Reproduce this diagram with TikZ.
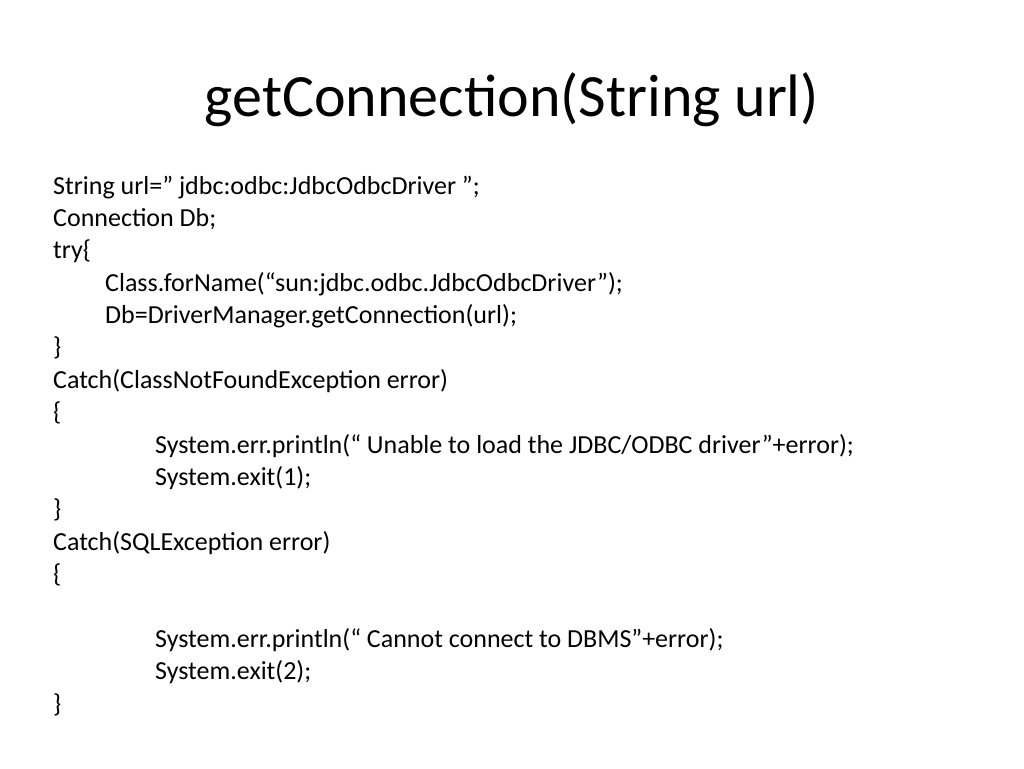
\documentclass[tikz,border=0pt]{standalone}
\usepackage{fontspec}
\setmainfont{Carlito}
\begin{document}
\begin{tikzpicture}[x=1pt,y=-1pt,
  code/.style={anchor=base west,inner sep=0pt,font=\fontsize{26}{30}\selectfont}]
\useasboundingbox (0,0) rectangle (1024,768);
\node[inner sep=0pt,font=\fontsize{60}{70}\selectfont] (title) at (512,100) {getConnection(String url)};
\node[code] (l1) at (53,194) {String url=” jdbc:odbc:JdbcOdbcDriver ”;};
\node[code] (l2) at (53,226) {Connection Db;};
\node[code] (l3) at (53,258) {try\{};
\node[code] (l4) at (105,291) {Class.forName(“sun:jdbc.odbc.JdbcOdbcDriver”);};
\node[code] (l5) at (105,323) {Db=DriverManager.getConnection(url);};
\node[code] (l6) at (53,355) {\}};
\node[code] (l7) at (53,388) {Catch(ClassNotFoundException error)};
\node[code] (l8) at (53,420) {\{};
\node[code] (l9) at (155,453) {System.err.println(“ Unable to load the JDBC/ODBC driver”+error);};
\node[code] (l10) at (155,485) {System.exit(1);};
\node[code] (l11) at (53,517) {\}};
\node[code] (l12) at (53,550) {Catch(SQLException error)};
\node[code] (l13) at (53,582) {\{};
\node[code] (l14) at (155,647) {System.err.println(“ Cannot connect to DBMS”+error);};
\node[code] (l15) at (155,679) {System.exit(2);};
\node[code] (l16) at (53,712) {\}};
\end{tikzpicture}
\end{document}
